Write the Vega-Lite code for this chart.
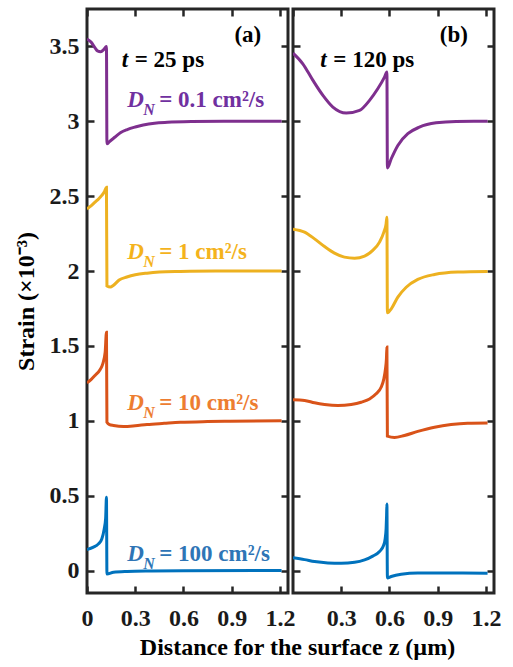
{
  "$schema": "https://vega.github.io/schema/vega-lite/v6.json",
  "padding": {"left": 12, "top": 6, "right": 5, "bottom": 0},
  "background": "white",
  "bounds": "flush",
  "config": {
    "view": {"stroke": "#262626", "strokeWidth": 3},
    "font": "Liberation Serif",
    "axis": {
      "domain": false, "grid": false,
      "tickSize": -7, "tickWidth": 2.5, "tickColor": "#262626",
      "labelFont": "Liberation Serif", "labelFontSize": 24, "labelFontWeight": "bold", "labelColor": "#1a1a1a",
      "labelFlush": false, "labelOverlap": false,
      "titleFont": "Liberation Serif", "titleFontSize": 24, "titleFontWeight": "bold", "titleColor": "#000000"
    }
  },
  "title": {"text": "Distance for the surface z (µm)", "orient": "bottom", "anchor": "middle", "font": "Liberation Serif", "fontSize": 24, "fontWeight": "bold", "color": "#000000", "offset": 4, "dx": 40},
  "datasets": {
    "curves": [
      {"panel":"a","D":"0.1","z":0,"strain":3.55},{"panel":"a","D":"0.1","z":0.025,"strain":3.53},{"panel":"a","D":"0.1","z":0.05,"strain":3.49},{"panel":"a","D":"0.1","z":0.065,"strain":3.47},{"panel":"a","D":"0.1","z":0.085,"strain":3.465},{"panel":"a","D":"0.1","z":0.105,"strain":3.48},{"panel":"a","D":"0.1","z":0.121,"strain":3.5},{"panel":"a","D":"0.1","z":0.124,"strain":2.85},{"panel":"a","D":"0.1","z":0.14,"strain":2.865},{"panel":"a","D":"0.1","z":0.175,"strain":2.895},{"panel":"a","D":"0.1","z":0.21,"strain":2.925},{"panel":"a","D":"0.1","z":0.25,"strain":2.945},{"panel":"a","D":"0.1","z":0.3,"strain":2.962},{"panel":"a","D":"0.1","z":0.35,"strain":2.975},{"panel":"a","D":"0.1","z":0.42,"strain":2.987},{"panel":"a","D":"0.1","z":0.5,"strain":2.993},{"panel":"a","D":"0.1","z":0.65,"strain":2.998},{"panel":"a","D":"0.1","z":0.85,"strain":3.0},{"panel":"a","D":"0.1","z":1.21,"strain":3.0},
      {"panel":"a","D":"1","z":0,"strain":2.415},{"panel":"a","D":"1","z":0.025,"strain":2.435},{"panel":"a","D":"1","z":0.05,"strain":2.46},{"panel":"a","D":"1","z":0.075,"strain":2.485},{"panel":"a","D":"1","z":0.092,"strain":2.505},{"panel":"a","D":"1","z":0.108,"strain":2.53},{"panel":"a","D":"1","z":0.121,"strain":2.56},{"panel":"a","D":"1","z":0.124,"strain":1.9},{"panel":"a","D":"1","z":0.145,"strain":1.893},{"panel":"a","D":"1","z":0.165,"strain":1.905},{"panel":"a","D":"1","z":0.2,"strain":1.94},{"panel":"a","D":"1","z":0.248,"strain":1.96},{"panel":"a","D":"1","z":0.3,"strain":1.975},{"panel":"a","D":"1","z":0.373,"strain":1.986},{"panel":"a","D":"1","z":0.45,"strain":1.993},{"panel":"a","D":"1","z":0.58,"strain":1.997},{"panel":"a","D":"1","z":0.8,"strain":2.0},{"panel":"a","D":"1","z":1.21,"strain":2.0},
      {"panel":"a","D":"10","z":0,"strain":1.253},{"panel":"a","D":"10","z":0.025,"strain":1.275},{"panel":"a","D":"10","z":0.05,"strain":1.303},{"panel":"a","D":"10","z":0.082,"strain":1.343},{"panel":"a","D":"10","z":0.098,"strain":1.38},{"panel":"a","D":"10","z":0.113,"strain":1.458},{"panel":"a","D":"10","z":0.121,"strain":1.592},{"panel":"a","D":"10","z":0.124,"strain":0.99},{"panel":"a","D":"10","z":0.14,"strain":0.975},{"panel":"a","D":"10","z":0.165,"strain":0.969},{"panel":"a","D":"10","z":0.227,"strain":0.962},{"panel":"a","D":"10","z":0.3,"strain":0.967},{"panel":"a","D":"10","z":0.373,"strain":0.975},{"panel":"a","D":"10","z":0.48,"strain":0.983},{"panel":"a","D":"10","z":0.58,"strain":0.99},{"panel":"a","D":"10","z":0.75,"strain":0.995},{"panel":"a","D":"10","z":0.89,"strain":0.997},{"panel":"a","D":"10","z":1.21,"strain":1.0},
      {"panel":"a","D":"100","z":0,"strain":0.14},{"panel":"a","D":"100","z":0.04,"strain":0.156},{"panel":"a","D":"100","z":0.071,"strain":0.178},{"panel":"a","D":"100","z":0.092,"strain":0.211},{"panel":"a","D":"100","z":0.107,"strain":0.278},{"panel":"a","D":"100","z":0.116,"strain":0.35},{"panel":"a","D":"100","z":0.121,"strain":0.49},{"panel":"a","D":"100","z":0.124,"strain":-0.023},{"panel":"a","D":"100","z":0.165,"strain":-0.011},{"panel":"a","D":"100","z":0.25,"strain":-0.006},{"panel":"a","D":"100","z":0.4,"strain":-0.003},{"panel":"a","D":"100","z":0.6,"strain":-0.001},{"panel":"a","D":"100","z":1.21,"strain":0.0},
      {"panel":"b","D":"0.1","z":0,"strain":3.455},{"panel":"b","D":"0.1","z":0.061,"strain":3.384},{"panel":"b","D":"0.1","z":0.124,"strain":3.273},{"panel":"b","D":"0.1","z":0.186,"strain":3.173},{"panel":"b","D":"0.1","z":0.248,"strain":3.095},{"panel":"b","D":"0.1","z":0.331,"strain":3.055},{"panel":"b","D":"0.1","z":0.414,"strain":3.073},{"panel":"b","D":"0.1","z":0.476,"strain":3.14},{"panel":"b","D":"0.1","z":0.527,"strain":3.217},{"panel":"b","D":"0.1","z":0.569,"strain":3.295},{"panel":"b","D":"0.1","z":0.584,"strain":3.329},{"panel":"b","D":"0.1","z":0.587,"strain":2.689},{"panel":"b","D":"0.1","z":0.611,"strain":2.75},{"panel":"b","D":"0.1","z":0.652,"strain":2.839},{"panel":"b","D":"0.1","z":0.714,"strain":2.917},{"panel":"b","D":"0.1","z":0.786,"strain":2.961},{"panel":"b","D":"0.1","z":0.89,"strain":2.99},{"panel":"b","D":"0.1","z":1.014,"strain":2.999},{"panel":"b","D":"0.1","z":1.21,"strain":3.0},
      {"panel":"b","D":"1","z":0,"strain":2.28},{"panel":"b","D":"1","z":0.072,"strain":2.26},{"panel":"b","D":"1","z":0.134,"strain":2.215},{"panel":"b","D":"1","z":0.196,"strain":2.164},{"panel":"b","D":"1","z":0.258,"strain":2.12},{"panel":"b","D":"1","z":0.32,"strain":2.093},{"panel":"b","D":"1","z":0.383,"strain":2.086},{"panel":"b","D":"1","z":0.445,"strain":2.1},{"panel":"b","D":"1","z":0.496,"strain":2.138},{"panel":"b","D":"1","z":0.538,"strain":2.193},{"panel":"b","D":"1","z":0.565,"strain":2.26},{"panel":"b","D":"1","z":0.579,"strain":2.315},{"panel":"b","D":"1","z":0.584,"strain":2.36},{"panel":"b","D":"1","z":0.587,"strain":1.721},{"panel":"b","D":"1","z":0.611,"strain":1.748},{"panel":"b","D":"1","z":0.652,"strain":1.826},{"panel":"b","D":"1","z":0.704,"strain":1.892},{"panel":"b","D":"1","z":0.776,"strain":1.944},{"panel":"b","D":"1","z":0.88,"strain":1.977},{"panel":"b","D":"1","z":1.024,"strain":1.993},{"panel":"b","D":"1","z":1.21,"strain":1.997},
      {"panel":"b","D":"10","z":0,"strain":1.14},{"panel":"b","D":"10","z":0.072,"strain":1.136},{"panel":"b","D":"10","z":0.134,"strain":1.12},{"panel":"b","D":"10","z":0.196,"strain":1.109},{"panel":"b","D":"10","z":0.279,"strain":1.102},{"panel":"b","D":"10","z":0.362,"strain":1.109},{"panel":"b","D":"10","z":0.424,"strain":1.124},{"panel":"b","D":"10","z":0.476,"strain":1.146},{"panel":"b","D":"10","z":0.517,"strain":1.18},{"panel":"b","D":"10","z":0.548,"strain":1.224},{"panel":"b","D":"10","z":0.565,"strain":1.28},{"panel":"b","D":"10","z":0.575,"strain":1.347},{"panel":"b","D":"10","z":0.581,"strain":1.414},{"panel":"b","D":"10","z":0.584,"strain":1.492},{"panel":"b","D":"10","z":0.587,"strain":0.897},{"panel":"b","D":"10","z":0.631,"strain":0.888},{"panel":"b","D":"10","z":0.693,"strain":0.902},{"panel":"b","D":"10","z":0.776,"strain":0.929},{"panel":"b","D":"10","z":0.88,"strain":0.957},{"panel":"b","D":"10","z":0.983,"strain":0.975},{"panel":"b","D":"10","z":1.086,"strain":0.984},{"panel":"b","D":"10","z":1.21,"strain":0.986},
      {"panel":"b","D":"100","z":0,"strain":0.085},{"panel":"b","D":"100","z":0.072,"strain":0.073},{"panel":"b","D":"100","z":0.134,"strain":0.06},{"panel":"b","D":"100","z":0.217,"strain":0.051},{"panel":"b","D":"100","z":0.3,"strain":0.049},{"panel":"b","D":"100","z":0.383,"strain":0.055},{"panel":"b","D":"100","z":0.445,"strain":0.071},{"panel":"b","D":"100","z":0.496,"strain":0.096},{"panel":"b","D":"100","z":0.538,"strain":0.127},{"panel":"b","D":"100","z":0.563,"strain":0.167},{"panel":"b","D":"100","z":0.573,"strain":0.211},{"panel":"b","D":"100","z":0.579,"strain":0.278},{"panel":"b","D":"100","z":0.582,"strain":0.367},{"panel":"b","D":"100","z":0.584,"strain":0.445},{"panel":"b","D":"100","z":0.587,"strain":-0.049},{"panel":"b","D":"100","z":0.611,"strain":-0.04},{"panel":"b","D":"100","z":0.673,"strain":-0.025},{"panel":"b","D":"100","z":0.776,"strain":-0.016},{"panel":"b","D":"100","z":0.983,"strain":-0.016},{"panel":"b","D":"100","z":1.21,"strain":-0.018}
    ],
    "tags": [
      {"panel":"a","text":"(a)","z":1.0,"strain":3.529},
      {"panel":"b","text":"(b)","z":1.0,"strain":3.529}
    ],
    "times": [
      {"panel":"a","text":"= 25 ps","z":0.216,"strain":3.362},
      {"panel":"b","text":"= 120 ps","z":0.17,"strain":3.362}
    ],
    "dn": [
      {"D":"0.1","text":"= 0.1 cm²/s","z":0.25,"strain":3.095},
      {"D":"1","text":"= 1 cm²/s","z":0.25,"strain":2.082},
      {"D":"10","text":"= 10 cm²/s","z":0.25,"strain":1.073},
      {"D":"100","text":"= 100 cm²/s","z":0.25,"strain":0.062}
    ]
  },
  "spacing": 5,
  "hconcat": [
    {
      "width": 201, "height": 584,
      "layer": [
        {
          "data": {"name": "curves"},
          "transform": [{"filter": "datum.panel == 'a'"}],
          "mark": {"type": "line", "strokeWidth": 3, "interpolate": "monotone", "clip": true},
          "encoding": {
            "x": {"field": "z", "type": "quantitative", "scale": {"domain": [0, 1.25], "nice": false, "zero": false},
                  "axis": {"orient": "bottom", "values": [0, 0.3, 0.6, 0.9, 1.2], "format": "~g", "title": null, "labelPadding": 20}},
            "y": {"field": "strain", "type": "quantitative", "scale": {"domain": [-0.15, 3.75], "nice": false, "zero": false},
                  "axis": {"orient": "left", "values": [0, 0.5, 1, 1.5, 2, 2.5, 3, 3.5], "format": "~g", "title": "Strain (×10⁻³)", "labelPadding": 15, "titlePadding": 11}},
            "color": {"field": "D", "type": "nominal", "scale": {"domain": ["0.1", "1", "10", "100"], "range": ["#7E2F8E", "#EDB120", "#D95319", "#0072BD"]}, "legend": null}
          }
        },
        {
          "data": {"name": "tags"},
          "transform": [{"filter": "datum.panel == 'a'"}],
          "mark": {"type": "text", "font": "Liberation Serif", "fontSize": 23, "fontWeight": "bold", "align": "center", "baseline": "alphabetic", "color": "#000000"},
          "encoding": {
            "x": {"field": "z", "type": "quantitative", "scale": {"domain": [0, 1.25], "nice": false, "zero": false},
                  "axis": {"orient": "top", "values": [0, 0.3, 0.6, 0.9, 1.2], "labels": false, "title": null, "minExtent": 0, "maxExtent": 0}},
            "y": {"field": "strain", "type": "quantitative", "scale": {"domain": [-0.15, 3.75], "nice": false, "zero": false},
                  "axis": {"orient": "right", "values": [0, 0.5, 1, 1.5, 2, 2.5, 3, 3.5], "labels": false, "title": null, "minExtent": 0, "maxExtent": 0}},
            "text": {"field": "text"}
          }
        },
        {
          "data": {"name": "times"},
          "transform": [{"filter": "datum.panel == 'a'"}],
          "mark": {"type": "text", "text": "t", "font": "Liberation Serif", "fontSize": 23, "fontWeight": "bold", "fontStyle": "italic", "align": "left", "baseline": "alphabetic", "color": "#000000"},
          "encoding": {
            "x": {"field": "z", "type": "quantitative", "axis": null},
            "y": {"field": "strain", "type": "quantitative", "axis": null}
          }
        },
        {
          "data": {"name": "times"},
          "transform": [{"filter": "datum.panel == 'a'"}],
          "mark": {"type": "text", "dx": 13, "font": "Liberation Serif", "fontSize": 23, "fontWeight": "bold", "align": "left", "baseline": "alphabetic", "color": "#000000"},
          "encoding": {
            "x": {"field": "z", "type": "quantitative", "axis": null},
            "y": {"field": "strain", "type": "quantitative", "axis": null},
            "text": {"field": "text"}
          }
        },
        {
          "data": {"name": "dn"},
          "mark": {"type": "text", "text": "D", "font": "Liberation Serif", "fontSize": 23, "fontWeight": "bold", "fontStyle": "italic", "align": "left", "baseline": "alphabetic"},
          "encoding": {
            "x": {"field": "z", "type": "quantitative", "axis": null},
            "y": {"field": "strain", "type": "quantitative", "axis": null},
            "color": {"field": "D", "type": "nominal", "scale": {"domain": ["0.1", "1", "10", "100"], "range": ["#7030A0", "#F4B31C", "#ED7D31", "#2E75B6"]}, "legend": null}
          }
        },
        {
          "data": {"name": "dn"},
          "mark": {"type": "text", "text": "N", "dx": 16, "dy": 8, "font": "Liberation Serif", "fontSize": 16, "fontWeight": "bold", "fontStyle": "italic", "align": "left", "baseline": "alphabetic"},
          "encoding": {
            "x": {"field": "z", "type": "quantitative", "axis": null},
            "y": {"field": "strain", "type": "quantitative", "axis": null},
            "color": {"field": "D", "type": "nominal", "scale": {"domain": ["0.1", "1", "10", "100"], "range": ["#7030A0", "#F4B31C", "#ED7D31", "#2E75B6"]}, "legend": null}
          }
        },
        {
          "data": {"name": "dn"},
          "mark": {"type": "text", "dx": 32, "font": "Liberation Serif", "fontSize": 23, "fontWeight": "bold", "align": "left", "baseline": "alphabetic"},
          "encoding": {
            "x": {"field": "z", "type": "quantitative", "axis": null},
            "y": {"field": "strain", "type": "quantitative", "axis": null},
            "text": {"field": "text"},
            "color": {"field": "D", "type": "nominal", "scale": {"domain": ["0.1", "1", "10", "100"], "range": ["#7030A0", "#F4B31C", "#ED7D31", "#2E75B6"]}, "legend": null}
          }
        }
      ],
      "resolve": {"axis": {"x": "independent", "y": "independent"}, "scale": {"color": "independent"}}
    },
    {
      "width": 201, "height": 584,
      "layer": [
        {
          "data": {"name": "curves"},
          "transform": [{"filter": "datum.panel == 'b'"}],
          "mark": {"type": "line", "strokeWidth": 3, "interpolate": "monotone", "clip": true},
          "encoding": {
            "x": {"field": "z", "type": "quantitative", "scale": {"domain": [0, 1.25], "nice": false, "zero": false},
                  "axis": {"orient": "bottom", "values": [0.3, 0.6, 0.9, 1.2], "format": "~g", "title": null, "labelPadding": 20}},
            "y": {"field": "strain", "type": "quantitative", "scale": {"domain": [-0.15, 3.75], "nice": false, "zero": false},
                  "axis": {"orient": "left", "values": [0, 0.5, 1, 1.5, 2, 2.5, 3, 3.5], "labels": false, "title": null, "minExtent": 0, "maxExtent": 0}},
            "color": {"field": "D", "type": "nominal", "scale": {"domain": ["0.1", "1", "10", "100"], "range": ["#7E2F8E", "#EDB120", "#D95319", "#0072BD"]}, "legend": null}
          }
        },
        {
          "data": {"name": "tags"},
          "transform": [{"filter": "datum.panel == 'b'"}],
          "mark": {"type": "text", "font": "Liberation Serif", "fontSize": 23, "fontWeight": "bold", "align": "center", "baseline": "alphabetic", "color": "#000000"},
          "encoding": {
            "x": {"field": "z", "type": "quantitative", "scale": {"domain": [0, 1.25], "nice": false, "zero": false},
                  "axis": {"orient": "top", "values": [0, 0.3, 0.6, 0.9, 1.2], "labels": false, "title": null, "minExtent": 0, "maxExtent": 0}},
            "y": {"field": "strain", "type": "quantitative", "scale": {"domain": [-0.15, 3.75], "nice": false, "zero": false},
                  "axis": {"orient": "right", "values": [0, 0.5, 1, 1.5, 2, 2.5, 3, 3.5], "labels": false, "title": null, "minExtent": 0, "maxExtent": 0}},
            "text": {"field": "text"}
          }
        },
        {
          "data": {"name": "times"},
          "transform": [{"filter": "datum.panel == 'b'"}],
          "mark": {"type": "text", "text": "t", "font": "Liberation Serif", "fontSize": 23, "fontWeight": "bold", "fontStyle": "italic", "align": "left", "baseline": "alphabetic", "color": "#000000"},
          "encoding": {
            "x": {"field": "z", "type": "quantitative", "axis": null},
            "y": {"field": "strain", "type": "quantitative", "axis": null}
          }
        },
        {
          "data": {"name": "times"},
          "transform": [{"filter": "datum.panel == 'b'"}],
          "mark": {"type": "text", "dx": 13, "font": "Liberation Serif", "fontSize": 23, "fontWeight": "bold", "align": "left", "baseline": "alphabetic", "color": "#000000"},
          "encoding": {
            "x": {"field": "z", "type": "quantitative", "axis": null},
            "y": {"field": "strain", "type": "quantitative", "axis": null},
            "text": {"field": "text"}
          }
        }
      ],
      "resolve": {"axis": {"x": "independent", "y": "independent"}}
    }
  ]
}
